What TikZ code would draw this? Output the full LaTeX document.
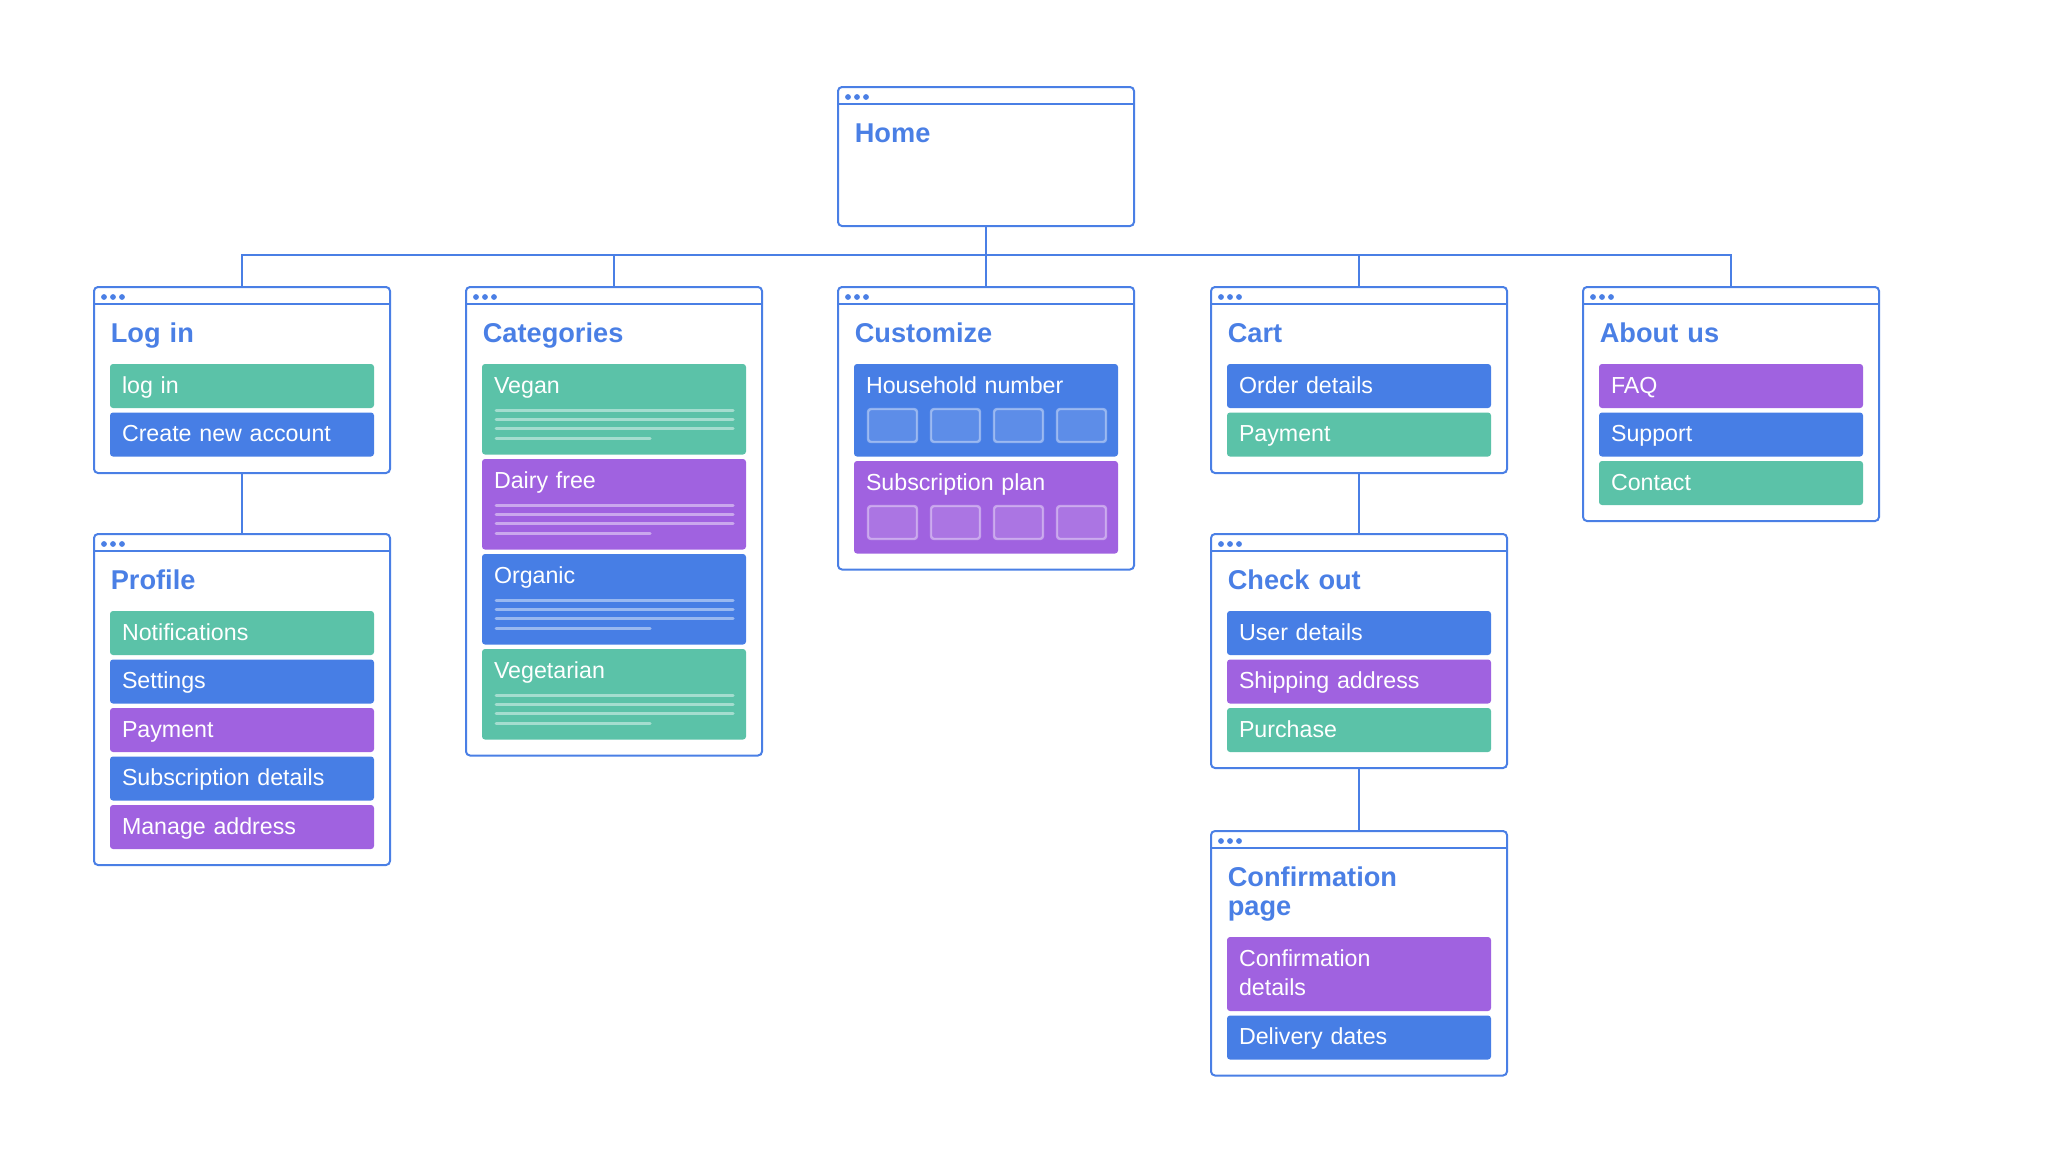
\documentclass[tikz,border=0pt]{standalone}
\usepackage{fontspec}
\setmainfont{Liberation Sans}

\definecolor{wblue}{HTML}{4A7FE5}
\definecolor{igreen}{HTML}{5BC2A8}
\definecolor{iblue}{HTML}{477EE5}
\definecolor{ipurple}{HTML}{A062E0}

% window: name, left, top, height, title
\newcommand{\wnd}[5]{%
  \node[win, minimum height={#4*0.5pt}] (#1) at (#2,#3) {};
  \draw[wline] ([yshift=-8.5pt]#1.north west) -- ([yshift=-8.5pt]#1.north east);
  \foreach \d in {0,1,2}
    \fill[wblue] ([xshift={5pt+\d*4.5pt},yshift=-5pt]#1.north west) circle (1.45pt);
  \node[wtitle] (#1-title) at ([xshift=8.2pt,yshift=-27.5pt]#1.north west) {#5};
}
% item: name, colour, left, top, height, text
\newcommand{\pageitem}[6]{%
  \node[itembox, fill=#2, minimum height={#5*0.5pt}, text depth={(#5-29)*0.5pt}] (#1) at (#3,#4) {#6};
}
% placeholder text lines in a category card
\newcommand{\lorem}[1]{%
  \foreach \k in {0,1,2}
    \draw[txtline] ([xshift=7pt,yshift={-(23.15pt+\k*4.67pt)}]#1.north west) -- ++(118.5pt,0);
  \draw[txtline] ([xshift=7pt,yshift=-37.15pt]#1.north west) -- ++(77pt,0);
}

\begin{document}
\begin{tikzpicture}[x=0.5pt, y=-0.5pt,
    win/.style={draw=wblue, line width=1pt, rounded corners=2pt, anchor=north west,
      minimum width=148pt, inner sep=0pt, outer sep=0pt},
    wline/.style={draw=wblue, line width=1pt},
    wtitle/.style={anchor=base west, inner sep=0pt, text=wblue, text width=140pt, align=left,
      font=\fontsize{13.6}{14.5}\selectfont\bfseries},
    itembox/.style={anchor=north west, rounded corners=1.5pt, text=white, text width=120pt,
      align=left, inner xsep=6pt, inner ysep=0pt, outer sep=0pt, text height=14.5pt,
      font=\fontsize{11.6}{14.5}\selectfont},
    chip/.style={draw=white, draw opacity=0.4, fill=white, fill opacity=0.12,
      line width=1.2pt, rounded corners=1.5pt},
    txtline/.style={draw=white, draw opacity=0.45, line width=1.5pt, line cap=round}]
  \useasboundingbox (0,0) rectangle (2048,1173);

  % windows
  \wnd{home}{838}{87}{139}{Home}
  \wnd{login}{94}{287}{186}{Log in}
  \wnd{profile}{94}{534}{331}{Profile}
  \wnd{categories}{466}{287}{468.5}{Categories}
  \wnd{customize}{838}{287}{282.5}{Customize}
  \wnd{cart}{1211}{287}{186}{Cart}
  \wnd{checkout}{1211}{534}{234}{Check out}
  \wnd{confirm}{1211}{831}{244.5}{Confirmation\\page}
  \wnd{about}{1583}{287}{234}{About us}

  % log in
  \pageitem{login1}{igreen}{110}{364}{44}{log in}
  \pageitem{login2}{iblue}{110}{412.5}{44}{Create new account}

  % profile
  \pageitem{prof1}{igreen}{110}{611}{44}{Notifications}
  \pageitem{prof2}{iblue}{110}{659.5}{44}{Settings}
  \pageitem{prof3}{ipurple}{110}{708}{44}{Payment}
  \pageitem{prof4}{iblue}{110}{756.5}{44}{Subscription details}
  \pageitem{prof5}{ipurple}{110}{805}{44}{Manage address}

  % categories
  \pageitem{vegan}{igreen}{482}{364}{90.5}{Vegan}
  \pageitem{dairy}{ipurple}{482}{459}{90.5}{Dairy free}
  \pageitem{organic}{iblue}{482}{554}{90.5}{Organic}
  \pageitem{veggie}{igreen}{482}{649}{90.5}{Vegetarian}
  \foreach \c in {vegan,dairy,organic,veggie} {\lorem{\c}}

  % customize
  \pageitem{hhnum}{iblue}{854}{364}{92.5}{Household number}
  \pageitem{subplan}{ipurple}{854}{461}{92.5}{Subscription plan}
  \foreach \c in {hhnum,subplan}
    \foreach \k in {0,...,3}
      \draw[chip] ([xshift={7pt+\k*31.5pt},yshift=-22.5pt]\c.north west) rectangle ++(24.5pt,-16.5pt);

  % cart
  \pageitem{cart1}{iblue}{1227}{364}{44}{Order details}
  \pageitem{cart2}{igreen}{1227}{412.5}{44}{Payment}

  % check out
  \pageitem{chk1}{iblue}{1227}{611}{44}{User details}
  \pageitem{chk2}{ipurple}{1227}{659.5}{44}{Shipping address}
  \pageitem{chk3}{igreen}{1227}{708}{44}{Purchase}

  % confirmation page
  \pageitem{conf1}{ipurple}{1227}{937}{74}{Confirmation\\details}
  \pageitem{conf2}{iblue}{1227}{1015.5}{44}{Delivery dates}

  % about us
  \pageitem{about1}{ipurple}{1599}{364}{44}{FAQ}
  \pageitem{about2}{iblue}{1599}{412.5}{44}{Support}
  \pageitem{about3}{igreen}{1599}{461}{44}{Contact}

  % connectors
  \coordinate (bus) at (0,255);
  \draw[wline] (home.south) -- (home.south |- bus);
  \draw[wline] (login.north) -- (login.north |- bus) -- (about.north |- bus) -- (about.north);
  \foreach \n in {categories,customize,cart}
    \draw[wline] (\n.north) -- (\n.north |- bus);
  \draw[wline] (login.south) -- (profile.north);
  \draw[wline] (cart.south) -- (checkout.north);
  \draw[wline] (checkout.south) -- (confirm.north);
\end{tikzpicture}
\end{document}
